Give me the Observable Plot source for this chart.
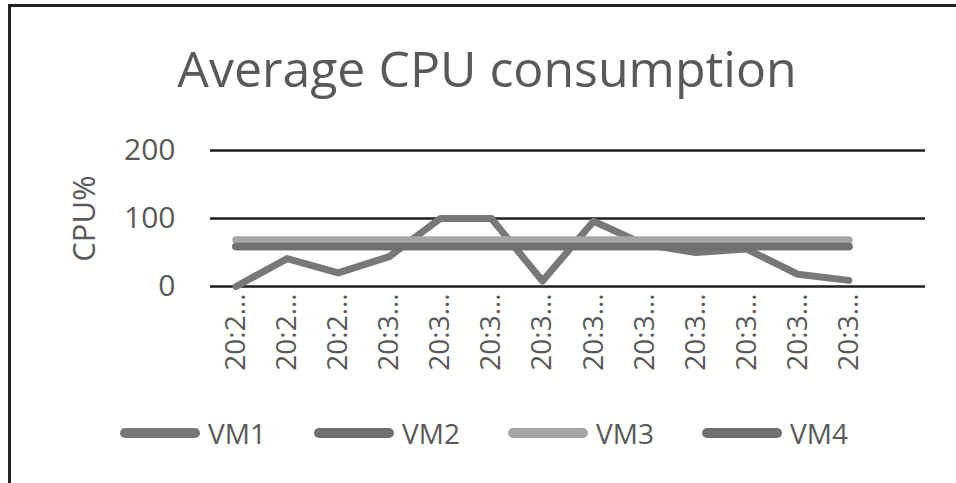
<!DOCTYPE html>
<html><head><meta charset="utf-8">
<script src="https://cdn.jsdelivr.net/npm/d3@7"></script>
<script src="https://cdn.jsdelivr.net/npm/@observablehq/plot@0.6"></script>
<style>
body{margin:0;background:#fff;}
#wrap{position:relative;width:956px;height:483px;overflow:hidden;font-family:"Open Sans",sans-serif;color:#595959;background:#fff;}
#border{position:absolute;left:8px;top:4px;right:-5px;bottom:-5px;border-top:3px solid #222;border-left:3px solid #222;}
#title{position:absolute;top:36px;left:9px;width:956px;text-align:center;font-size:50px;line-height:64px;white-space:nowrap;}
#chart{position:absolute;left:0;top:110px;}
#legend{position:absolute;top:413px;left:120px;display:flex;}
.item{display:flex;align-items:center;width:194px;font-size:28px;line-height:40px;}
.swatch{width:80px;height:10px;border-radius:5px;margin-right:8px;}
</style></head>
<body><div id="wrap"><div id="border"></div><div id="title"></div><div id="chart"></div><div id="legend"></div></div>
<script>
const title = "Average CPU consumption";
const yLabel = "CPU%";
const categories = ["20:2…","20:2…","20:2…","20:3…","20:3…","20:3…","20:3…","20:3…","20:3…","20:3…","20:3…","20:3…","20:3…"];
const yTicks = [0, 100, 200];
const series = ["VM1", "VM2", "VM3", "VM4"];
const vm1 = [0, 41, 20, 44, 100, 100, 8, 96, 62, 50, 55, 18, 9];
const vm2 = [59, 59, 59, 59, 59, 59, 59, 59, 59, 59, 59, 59, 59];
const vm3 = [68.5, 68.5, 68.5, 68.5, 68.5, 68.5, 68.5, 68.5, 68.5, 68.5, 68.5, 68.5, 68.5];
const vm4 = [59, 59, 59, 59, 59, 59, 59, 59, 59, 59, 59, 59, 59];
const colors = ["#787878", "#707070", "#a6a6a6", "#707070"];
const widths = [7, 7.5, 7.5, 7.5];

const values = [vm1, vm2, vm3, vm4];
document.getElementById("title").textContent = title;

const lineMarks = series.map((s, k) =>
  Plot.line(values[k].map((v, i) => ({i, v})), {
    x: "i", y: "v", stroke: colors[k], strokeWidth: widths[k],
    strokeLinecap: "round", strokeLinejoin: "round"
  })
);

const chart = Plot.plot({
  width: 956, height: 280,
  marginLeft: 210, marginRight: 31, marginTop: 40, marginBottom: 104,
  style: {fontFamily: "Open Sans, sans-serif", color: "#595959", background: "transparent"},
  x: {domain: [-0.5, 13.5], axis: null},
  y: {domain: [0, 200], axis: null},
  marks: [
    Plot.ruleY(yTicks, {stroke: "#1e1e1e", strokeWidth: 2.5}),
    Plot.axisY({ticks: yTicks, tickSize: 0, tickPadding: 35, fontSize: 30, label: null}),
    Plot.axisX({ticks: categories.map((_, i) => i), tickFormat: i => categories[i], tickRotate: -90, tickSize: 0, tickPadding: 7, fontSize: 28, label: null}),
    Plot.text([yLabel], {frameAnchor: "left", dx: -125, rotate: -90, textAnchor: "middle", fontSize: 31, fill: "#595959"}),
    ...lineMarks
  ]
});
document.getElementById("chart").appendChild(chart);

const legend = document.getElementById("legend");
series.forEach((s, k) => {
  const item = document.createElement("div");
  item.className = "item";
  const sw = document.createElement("span");
  sw.className = "swatch";
  sw.style.background = colors[k];
  const t = document.createElement("span");
  t.textContent = s;
  item.appendChild(sw); item.appendChild(t);
  legend.appendChild(item);
});
</script>
</body></html>
